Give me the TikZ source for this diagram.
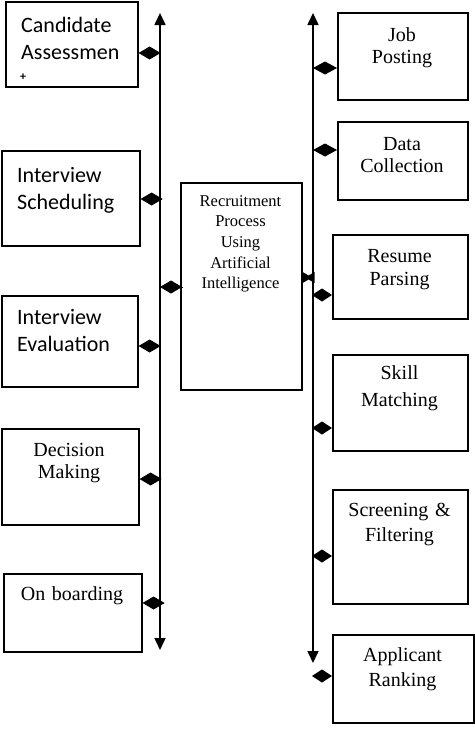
\documentclass[tikz,border=0pt]{standalone}
\usepackage{fontspec}
\setmainfont{Liberation Serif}
\newfontfamily\sansf{Carlito}
\usetikzlibrary{arrows.meta}
\begin{document}
\begin{tikzpicture}[x=1pt,y=-1pt,
  box/.style={draw,line width=1.6pt,rectangle,inner sep=0pt,anchor=north west},
  stxt/.style={inner sep=0pt,anchor=base west,align=left,text width=125pt,font=\sansf\fontsize{22}{27}\selectfont},
  rtxt/.style={inner sep=0pt,anchor=base,align=center,text width=140pt,font=\fontsize{20}{#1}\selectfont},
  ctxt/.style={inner sep=0pt,anchor=base,align=center,text width=118pt,font=\fontsize{16.5}{20.7}\selectfont},
  axis/.style={line width=1.6pt,{Triangle[length=12pt,width=11pt]}-{Triangle[length=12pt,width=11pt]}},
  dconn/.style={line width=1pt,-{Diamond[length=#1,width=13pt]}},
  dconn/.default=22pt]
\useasboundingbox (0,0) rectangle (474,731);
% axes
\coordinate (LT) at (160,13);
\coordinate (LB) at (160,650);
\coordinate (RT) at (313,13);
\coordinate (RB) at (313,663);
\draw[axis] (LB) -- (LT);
\draw[axis] (RB) -- (RT);
% left boxes
\node[box,minimum width=132pt,minimum height=85pt] (ca) at (5,1) {};
\node[box,minimum width=138pt,minimum height=95pt] (is) at (1,150) {};
\node[box,minimum width=136pt,minimum height=91pt] (ie) at (1,295) {};
\node[box,minimum width=137pt,minimum height=96pt] (dm) at (1,428) {};
\node[box,minimum width=138pt,minimum height=78pt] (ob) at (3,573) {};
% center box
\node[box,minimum width=121pt,minimum height=207pt] (ctr) at (180,182) {};
% right boxes
\node[box,minimum width=130pt,minimum height=87pt] (jp) at (337,12) {};
\node[box,minimum width=130pt,minimum height=78pt] (dc) at (337,121) {};
\node[box,minimum width=135pt,minimum height=84pt] (rp) at (332,234) {};
\node[box,minimum width=135pt,minimum height=96pt] (sm) at (332,354) {};
\node[box,minimum width=135pt,minimum height=114pt] (sf) at (332,489) {};
\node[box,minimum width=141pt,minimum height=88pt] (ar) at (332,634) {};
% texts
\node[stxt] (cat) at (21,32) {Candidate\\Assessmen};
\node[inner sep=0pt,anchor=base,font=\sansf\bfseries\fontsize{12}{12}\selectfont] (cap) at (23,80) {+};
\node[stxt] (ist) at (17,182) {Interview\\Scheduling};
\node[stxt] (iet) at (17,324) {Interview\\Evaluation};
\node[rtxt=22] (dmt) at (69,456) {Decision\\Making};
\node[rtxt=22] (obt) at (72,600) {On boarding};
\node[ctxt] (ctrt) at (240.5,206) {Recruitment\\Process\\Using\\Artificial\\Intelligence};
\node[rtxt=22.5] (jpt) at (402,41) {Job\\Posting};
\node[rtxt=22] (dct) at (402,150) {Data\\Collection};
\node[rtxt=23.5] (rpt) at (399.5,262) {Resume\\Parsing};
\node[rtxt=27] (smt) at (399.5,379) {Skill\\Matching};
\node[rtxt=25] (sft) at (399.5,516) {Screening \&\\Filtering};
\node[rtxt=25] (art) at (402.5,661) {Applicant\\Ranking};
% connector points on axes
\coordinate (c1) at (160,53);
\coordinate (c2) at (160,199);
\coordinate (c3) at (160,346);
\coordinate (c4) at (160,479);
\coordinate (c5) at (160,603);
\coordinate (c6) at (160,287);
\coordinate (r1) at (313,68);
\coordinate (r2) at (313,150);
\coordinate (r3) at (313,295);
\coordinate (r4) at (313,428);
\coordinate (r5) at (313,556);
\coordinate (r6) at (313,676);
\coordinate (bt) at (313,277.5);
% diamond connectors
\draw[dconn] (c1) -- (ca.east |- c1);
\draw[dconn] (c2) -- (is.east |- c2);
\draw[dconn] (c3) -- (ie.east |- c3);
\draw[dconn] (c4) -- (dm.east |- c4);
\draw[dconn] (c5) -- (ob.east |- c5);
\draw[dconn=22pt] ([xshift=3pt]ctr.west |- c6) -- (c6);
\draw[dconn=24pt] (r1) -- (jp.west |- r1);
\draw[dconn=24pt] (r2) -- (dc.west |- r2);
\draw[dconn=20pt] (r3) -- (rp.west |- r3);
\draw[dconn=20pt] (r4) -- (sm.west |- r4);
\draw[dconn=20pt] (r5) -- (sf.west |- r5);
\draw[dconn=20pt] (r6) -- (ar.west |- r6);
% bowtie connector between centre box and right axis
\fill (ctr.east |- bt) -- ++(0,-5.5) -- ++(6,3.5) -- ++(6,-3.5) -- ++(0,11) -- ++(-6,-3.5) -- ++(-6,3.5) -- cycle;
\end{tikzpicture}
\end{document}
